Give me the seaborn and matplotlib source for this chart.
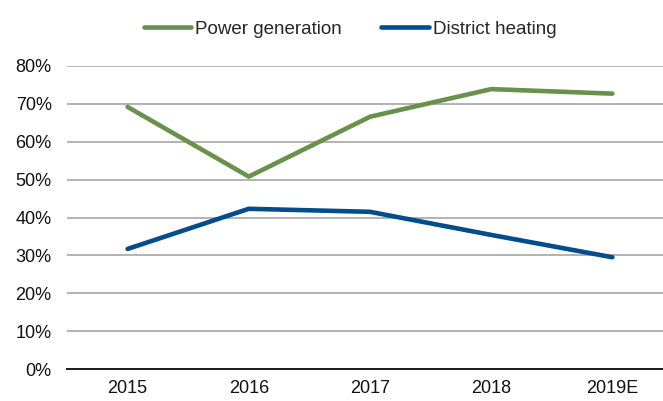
import pandas as pd
import seaborn as sns
import matplotlib.pyplot as plt
from matplotlib.ticker import PercentFormatter

# Chart data
years = ['2015', '2016', '2017', '2018', '2019E']
power_generation = [0.692, 0.508, 0.666, 0.739, 0.727]
district_heating = [0.317, 0.423, 0.415, 0.354, 0.295]

df = pd.DataFrame({
    'year': years * 2,
    'share': power_generation + district_heating,
    'series': ['Power generation'] * 5 + ['District heating'] * 5,
})

sns.set_style('white')
plt.rcParams['font.family'] = ['Liberation Sans', 'DejaVu Sans']

fig = plt.figure(figsize=(6.63, 4.01), dpi=100)
ax = fig.add_axes([67 / 663, 32 / 401, 606 / 663, 303 / 401])

sns.lineplot(data=df, x='year', y='share', hue='series', sort=False,
             palette=['#6A914B', '#004C8C'], linewidth=3.3, ax=ax)

ax.set_ylim(0, 0.8)
ax.set_xlim(-0.5, 4.5)
ax.yaxis.set_major_locator(plt.MultipleLocator(0.1))
ax.yaxis.set_major_formatter(PercentFormatter(1.0, decimals=0))
ax.grid(axis='y', color='#A6A6A6', linewidth=1.2)
ax.set_axisbelow(True)
for side in ['left', 'right', 'top']:
    ax.spines[side].set_visible(False)
ax.spines['bottom'].set_color('#1a1a1a')
ax.spines['bottom'].set_linewidth(1.4)
ax.tick_params(axis='both', length=0, labelsize=13, colors='#111111')
ax.tick_params(axis='y', pad=11)
ax.tick_params(axis='x', pad=8)
ax.set_xlabel('')
ax.set_ylabel('')

ax.legend(loc='center', bbox_to_anchor=(0.467, 1.122), ncol=2, frameon=False,
          fontsize=13.5, handlelength=2.55, handletextpad=0.2, columnspacing=2.1)

plt.savefig('out.png', dpi=100)
